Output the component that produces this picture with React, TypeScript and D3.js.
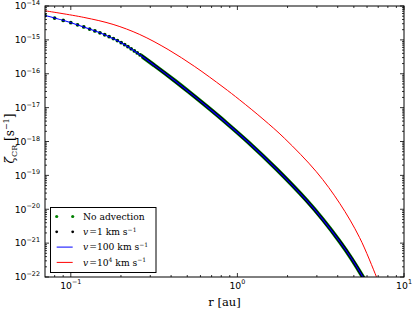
import React from "react";
import * as d3 from "d3";

const W = 415;
const H = 312;
const PLOT = { left: 45, right: 404, top: 6, bottom: 277 };

// r [au] and zeta_CR [s^-1].
// The "No advection", v=1 and v=100 km/s curves coincide in the reference.
const slowR = [0.07, 0.0908, 0.109, 0.131, 0.158, 0.197, 0.242, 0.319, 0.421, 0.518, 0.652, 0.859, 1.158, 1.721, 2.594, 3.249, 4.11, 4.851, 5.669, 5.885];
const zetaNoAdvection = [5.24e-15, 3.71e-15, 2.81e-15, 2.05e-15, 1.45e-15, 8.71e-16, 4.63e-16, 1.74e-16, 6.2e-17, 2.76e-17, 1.1e-17, 3.52e-18, 9.66e-19, 1.51e-19, 1.85e-20, 5.05e-21, 1.12e-21, 3.45e-22, 9.9e-23, 7.1e-23];
const zetaV1 = [5.24e-15, 3.71e-15, 2.81e-15, 2.05e-15, 1.45e-15, 8.71e-16, 4.63e-16, 1.74e-16, 6.2e-17, 2.76e-17, 1.1e-17, 3.52e-18, 9.66e-19, 1.51e-19, 1.85e-20, 5.05e-21, 1.12e-21, 3.45e-22, 9.9e-23, 7.1e-23];
const zetaV100 = [5.24e-15, 3.71e-15, 2.81e-15, 2.05e-15, 1.45e-15, 8.71e-16, 4.63e-16, 1.74e-16, 6.2e-17, 2.76e-17, 1.1e-17, 3.52e-18, 9.66e-19, 1.51e-19, 1.85e-20, 5.05e-21, 1.12e-21, 3.45e-22, 9.9e-23, 7.1e-23];

const fastR = [0.07, 0.1197, 0.1794, 0.2594, 0.3836, 0.5545, 0.8196, 1.032, 1.424, 1.922, 2.978, 4.11, 5.415, 6.822, 7.04];
const zetaV1e4 = [7.22e-15, 4.61e-15, 2.86e-15, 1.44e-15, 5.2e-16, 1.63e-16, 4.06e-17, 1.69e-17, 4.61e-18, 1.23e-18, 1.28e-19, 1.5e-20, 1.45e-21, 1.03e-22, 7.0e-23];

const xDomain = [0.07, 10];
const yDomain = [1e-22, 1e-14];
const xMajorExp = [-1, 0, 1];
const yMajorExp = [-22, -21, -20, -19, -18, -17, -16, -15, -14];
const minorSubs = [2, 3, 4, 5, 6, 7, 8, 9];

const legendItems = [
  { kind: "dot", color: "#008000", size: 1.6, label: "No advection" },
  { kind: "dot", color: "#000000", size: 1.4, label: "v=1" },
  { kind: "line", color: "#0000ff", label: "v=100" },
  { kind: "line", color: "#ff0000", label: "v=1e4" },
];

const MINUS = "\u2212";
// marker spacing along the curve (markers crowd together as r grows)
const MARKER_DASH = "0 9.95 0 8.8 0 7.9 0 7.2 0 6.6 0 6.2 0 5.7 0 5.4 0 5.1 0 4.9 0 4.6 0 4.4 0 4.3 0 4.2 0 3.9 0 3.8 0 3.7 0 3.6 0 3.5 0 3.4 0 3.3 0 3.2";

export default function App() {
  const x = d3.scaleLog().domain(xDomain).range([PLOT.left, PLOT.right]);
  const y = d3.scaleLog().domain(yDomain).range([PLOT.bottom, PLOT.top]);

  const mk = (rs: number[], zs: number[]) =>
    rs.map((r, i) => [r, zs[i]] as [number, number]);

  const line = d3
    .line<[number, number]>()
    .x((d) => x(d[0]))
    .y((d) => y(d[1]))
    .curve(d3.curveCatmullRom.alpha(0.5));

  const noAdv = mk(slowR, zetaNoAdvection);
  const v1 = mk(slowR, zetaV1);
  const v100 = mk(slowR, zetaV100);
  const v1e4 = mk(fastR, zetaV1e4);

  // markers merge into a continuous band where they crowd together
  const denseFrom = 0.265;

  const xMinor: number[] = [];
  for (let e = -2; e <= 0; e++)
    for (const s of minorSubs) {
      const v = s * Math.pow(10, e);
      if (v > xDomain[0] * 1.001 && v < xDomain[1]) xMinor.push(v);
    }
  const yMinor: number[] = [];
  for (let e = -22; e <= -15; e++)
    for (const s of minorSubs) yMinor.push(s * Math.pow(10, e));

  const majLen = 4;
  const minLen = 2;

  const tickFont = "'DejaVu Sans', sans-serif";
  const serif = "'DejaVu Serif', serif";
  const cut = x(denseFrom);

  return (
    <svg
      width={W}
      height={H}
      style={{ position: "absolute", left: 0, top: 0, background: "#fff" }}
    >
      <defs>
        <clipPath id="plotclip">
          <rect
            x={PLOT.left}
            y={PLOT.top}
            width={PLOT.right - PLOT.left}
            height={PLOT.bottom - PLOT.top}
          />
        </clipPath>
        <clipPath id="sparseclip">
          <rect x={PLOT.left} y={PLOT.top} width={cut - PLOT.left} height={PLOT.bottom - PLOT.top} />
        </clipPath>
        <clipPath id="denseclip">
          <rect x={cut} y={PLOT.top} width={PLOT.right - cut} height={PLOT.bottom - PLOT.top} />
        </clipPath>
      </defs>
      <rect x={0} y={0} width={W} height={H} fill="#fff" />

      <g clipPath="url(#plotclip)">
        <g clipPath="url(#sparseclip)">
          {/* No advection: green markers */}
          <path
            d={line(noAdv) || ""}
            fill="none"
            stroke="#008000"
            strokeWidth={3.8}
            strokeLinecap="round"
            strokeDasharray={MARKER_DASH}
          />
          {/* v = 1 km/s: black markers */}
          <path
            d={line(v1) || ""}
            fill="none"
            stroke="#000"
            strokeWidth={2.8}
            strokeLinecap="round"
            strokeDasharray={MARKER_DASH}
          />
        </g>
        <g clipPath="url(#denseclip)">
          <path d={line(noAdv) || ""} fill="none" stroke="#008000" strokeWidth={4.2} />
          <path d={line(v1) || ""} fill="none" stroke="#000" strokeWidth={2.9} />
        </g>
        {/* v = 100 km/s */}
        <path d={line(v100) || ""} fill="none" stroke="#0000ff" strokeWidth={1.1} />
        {/* v = 1e4 km/s */}
        <path d={line(v1e4) || ""} fill="none" stroke="#ff0000" strokeWidth={1} />
      </g>

      {/* ticks */}
      <g stroke="#000" strokeWidth={0.8}>
        {xMajorExp.map((e) => {
          const px = x(Math.pow(10, e));
          return (
            <g key={"xM" + e}>
              <line x1={px} x2={px} y1={PLOT.bottom} y2={PLOT.bottom - majLen} />
              <line x1={px} x2={px} y1={PLOT.top} y2={PLOT.top + majLen} />
            </g>
          );
        })}
        {xMinor.map((v) => {
          const px = x(v);
          return (
            <g key={"xm" + v}>
              <line x1={px} x2={px} y1={PLOT.bottom} y2={PLOT.bottom - minLen} />
              <line x1={px} x2={px} y1={PLOT.top} y2={PLOT.top + minLen} />
            </g>
          );
        })}
        {yMajorExp.map((e) => {
          const py = y(Math.pow(10, e));
          return (
            <g key={"yM" + e}>
              <line x1={PLOT.left} x2={PLOT.left + majLen} y1={py} y2={py} />
              <line x1={PLOT.right} x2={PLOT.right - majLen} y1={py} y2={py} />
            </g>
          );
        })}
        {yMinor.map((v) => {
          const py = y(v);
          return (
            <g key={"ym" + v}>
              <line x1={PLOT.left} x2={PLOT.left + minLen} y1={py} y2={py} />
              <line x1={PLOT.right} x2={PLOT.right - minLen} y1={py} y2={py} />
            </g>
          );
        })}
      </g>

      {/* frame */}
      <rect
        x={PLOT.left}
        y={PLOT.top}
        width={PLOT.right - PLOT.left}
        height={PLOT.bottom - PLOT.top}
        fill="none"
        stroke="#000"
        strokeWidth={1}
      />

      {/* tick labels */}
      <g fontFamily={tickFont} fill="#000">
        {xMajorExp.map((e) => (
          <text key={"xl" + e} x={x(Math.pow(10, e))} y={288.5} textAnchor="middle" fontSize={9.3}>
            10
            <tspan dy={-4.2} fontSize={6.4}>
              {e < 0 ? MINUS + Math.abs(e) : String(e)}
            </tspan>
          </text>
        ))}
        {yMajorExp.map((e) => (
          <text key={"yl" + e} x={40} y={y(Math.pow(10, e)) + 3.3} textAnchor="end" fontSize={9.3}>
            10
            <tspan dy={-4.2} fontSize={6.4}>
              {MINUS + Math.abs(e)}
            </tspan>
          </text>
        ))}
      </g>

      {/* axis labels */}
      <text
        x={(PLOT.left + PLOT.right) / 2}
        y={306}
        textAnchor="middle"
        fontFamily={serif}
        fontSize={11.5}
      >
        r [au]
      </text>
      <text
        transform={`translate(14,${(PLOT.top + PLOT.bottom) / 2 - 3}) rotate(-90)`}
        textAnchor="middle"
        fontFamily={serif}
        fontSize={12}
      >
        <tspan fontStyle="italic">ζ</tspan>
        <tspan dy={3} fontSize={8}>CR</tspan>
        <tspan dy={-3}> [s</tspan>
        <tspan dy={-5} fontSize={8}>{MINUS}1</tspan>
        <tspan dy={5}>]</tspan>
      </text>

      {/* legend */}
      <g>
        <rect x={50.5} y={207.5} width={105.5} height={65} fill="#fff" stroke="#000" strokeWidth={1} />
        {legendItems.map((it, i) => {
          const cy = 216.5 + i * 15.3;
          return (
            <g key={"lg" + i}>
              {it.kind === "dot" ? (
                <>
                  <circle cx={56.7} cy={cy} r={it.size} fill={it.color} />
                  <circle cx={72.7} cy={cy} r={it.size} fill={it.color} />
                </>
              ) : (
                <line x1={56.7} x2={72.7} y1={cy} y2={cy} stroke={it.color} strokeWidth={1} />
              )}
              <LegendLabel label={it.label} x={83} y={cy + 3.3} font={serif} />
            </g>
          );
        })}
      </g>
    </svg>
  );
}

function LegendLabel({ label, x, y, font }: { label: string; x: number; y: number; font: string }) {
  const fs = 9.2;
  if (label === "No advection") {
    return (
      <text x={x} y={y} fontFamily={font} fontSize={fs}>
        No advection
      </text>
    );
  }
  const val = label.slice(2);
  return (
    <text x={x} y={y} fontFamily={font} fontSize={fs}>
      <tspan fontStyle="italic">v</tspan>
      <tspan dx={1}>=</tspan>
      {val === "1e4" ? (
        <>
          <tspan>10</tspan>
          <tspan dy={-3.5} fontSize={6}>4</tspan>
          <tspan dy={3.5}>{"  km s"}</tspan>
        </>
      ) : (
        <tspan>{val + "  km s"}</tspan>
      )}
      <tspan dy={-3.5} fontSize={6}>{MINUS}1</tspan>
    </text>
  );
}
